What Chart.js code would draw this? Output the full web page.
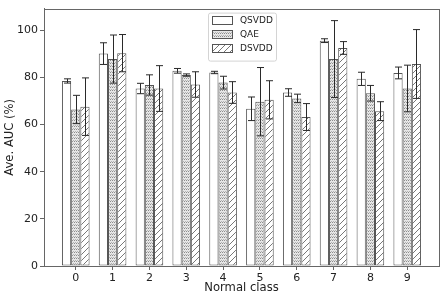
<!DOCTYPE html>
<html>
<head>
<meta charset="utf-8">
<script src="https://cdn.jsdelivr.net/npm/chart.js@4/dist/chart.umd.min.js"></script>
<style>
  html, body { margin: 0; padding: 0; background: #fff; }
  #wrap { width: 444px; height: 300px; }
</style>
</head>
<body>
<div id="wrap"><canvas id="chart"></canvas></div>
<script>
const classes = ['0', '1', '2', '3', '4', '5', '6', '7', '8', '9'];
const yTicks = [0, 20, 40, 60, 80, 100];

const qsvdd = [78.5, 90.1, 75.3, 82.8, 82.1, 66.7, 73.6, 95.6, 79.4, 81.9];
const qsvddErr = [0.9, 4.6, 2.2, 1.0, 0.5, 5.0, 1.6, 0.8, 2.8, 2.5];
const qae = [66.4, 87.8, 76.8, 81.0, 77.8, 69.7, 71.1, 87.8, 73.3, 75.3];
const qaeErr = [6.0, 10.2, 4.3, 0.5, 2.7, 14.5, 1.8, 16.3, 3.3, 9.9];
const dsvdd = [67.6, 90.3, 75.3, 77.0, 73.6, 70.5, 63.2, 92.5, 65.7, 85.7];
const dsvddErr = [12.2, 7.9, 9.7, 5.4, 4.6, 8.1, 5.7, 2.7, 4.0, 14.6];

const FONT = 'DejaVu Sans';
const EDGE = '#555';

// fill patterns, like matplotlib hatches
function dotPattern() {
  const c = document.createElement('canvas');
  c.width = 2; c.height = 3;
  const g = c.getContext('2d');
  g.fillStyle = '#e6e6e6';
  g.fillRect(0, 0, 2, 3);
  g.fillStyle = '#8c8c8c';
  g.fillRect(0, 0, 1, 1);
  g.fillStyle = '#b4b4b4';
  g.fillRect(1, 2, 1, 1);
  return g.createPattern(c, 'repeat');
}

function hatchPattern() {
  const s = 6;
  const c = document.createElement('canvas');
  c.width = s; c.height = s;
  const g = c.getContext('2d');
  g.fillStyle = '#fff';
  g.fillRect(0, 0, s, s);
  g.strokeStyle = '#555';
  g.lineWidth = 0.8;
  g.beginPath();
  g.moveTo(-1, s + 1); g.lineTo(s + 1, -1);
  g.moveTo(-1, 1); g.lineTo(1, -1);
  g.moveTo(s - 1, s + 1); g.lineTo(s + 1, s - 1);
  g.stroke();
  return g.createPattern(c, 'repeat');
}

const toPoints = arr => arr.map((v, i) => ({ x: i, y: v }));

const series = [
  { label: 'QSVDD', data: qsvdd, err: qsvddErr, fill: '#fff' },
  { label: 'QAE', data: qae, err: qaeErr, fill: dotPattern() },
  { label: 'DSVDD', data: dsvdd, err: dsvddErr, fill: hatchPattern() },
];

const errorBars = {
  id: 'errorBars',
  afterDatasetsDraw(chart) {
    const ctx = chart.ctx;
    const y = chart.scales.y;
    ctx.save();
    ctx.strokeStyle = '#2a2a2a';
    ctx.lineWidth = 1;
    chart.data.datasets.forEach((ds, di) => {
      const meta = chart.getDatasetMeta(di);
      meta.data.forEach((bar, i) => {
        const v = ds.data[i].y, e = ds.errors[i];
        const x = Math.round(bar.x) + 0.5;
        const y1 = y.getPixelForValue(v + e);
        const y2 = y.getPixelForValue(v - e);
        ctx.beginPath();
        ctx.moveTo(x, y1); ctx.lineTo(x, y2);
        ctx.moveTo(x - 3.5, y1); ctx.lineTo(x + 3.5, y1);
        ctx.moveTo(x - 3.5, y2); ctx.lineTo(x + 3.5, y2);
        ctx.stroke();
      });
    });
    ctx.restore();
  }
};

const frame = {
  id: 'frame',
  afterDraw(chart) {
    const { ctx, chartArea: a } = chart;
    ctx.save();
    ctx.strokeStyle = '#666';
    ctx.lineWidth = 1;
    ctx.strokeRect(Math.round(a.left) + 0.5, Math.round(a.top) + 0.5,
      Math.round(a.right - a.left), Math.round(a.bottom - a.top));
    ctx.restore();
  }
};

const boxLegend = {
  id: 'boxLegend',
  afterDraw(chart) {
    const { ctx, chartArea: a } = chart;
    const bx = a.left + 164, by = a.top + 4, bw = 68, bh = 48;
    ctx.save();
    ctx.fillStyle = 'rgba(255,255,255,0.85)';
    ctx.strokeStyle = '#d4d4d4';
    ctx.lineWidth = 1;
    ctx.beginPath();
    ctx.roundRect(bx + 0.5, by + 0.5, bw, bh, 2);
    ctx.fill();
    ctx.stroke();
    ctx.font = '9px "' + FONT + '"';
    ctx.textBaseline = 'middle';
    chart.data.datasets.forEach((ds, i) => {
      const cy = by + 7.5 + i * 14;
      ctx.fillStyle = ds.backgroundColor;
      ctx.fillRect(bx + 4, Math.round(cy - 4), 20, 8);
      ctx.strokeStyle = EDGE;
      ctx.strokeRect(bx + 4.5, Math.round(cy - 4) + 0.5, 20, 8);
      ctx.fillStyle = '#222';
      ctx.fillText(ds.label, bx + 32, cy + 0.5);
    });
    ctx.restore();
  }
};

new Chart(document.getElementById('chart'), {
  type: 'bar',
  data: {
    datasets: series.map(s => ({
      label: s.label,
      data: toPoints(s.data),
      errors: s.err,
      backgroundColor: s.fill,
      borderColor: EDGE,
      borderWidth: 1,
      borderSkipped: false,
      categoryPercentage: 0.75,
      barPercentage: 1.0,
    })),
  },
  options: {
    responsive: true,
    maintainAspectRatio: false,
    animation: false,
    layout: { padding: { left: 0, top: 4, right: 5, bottom: 0 } },
    plugins: { legend: { display: false }, tooltip: { enabled: false } },
    scales: {
      x: {
        type: 'linear',
        offset: false,
        min: -0.8625,
        max: 9.8625,
        afterBuildTicks: s => { s.ticks = classes.map((c, i) => ({ value: i })); },
        afterFit: s => { s.height = 34; },
        ticks: {
          callback: v => classes[v],
          color: '#222',
          font: { family: FONT, size: 11 },
          padding: 2,
          maxRotation: 0,
        },
        grid: { display: true, offset: false, drawOnChartArea: false, drawTicks: true, tickLength: 4, color: '#666' },
        border: { display: true, color: '#666' },
        title: {
          display: true,
          text: 'Normal class',
          color: '#222',
          font: { family: FONT, size: 11.6 },
          padding: { top: 0, bottom: 5 },
        },
      },
      y: {
        min: 0,
        max: 109.2,
        afterBuildTicks: s => { s.ticks = yTicks.map(v => ({ value: v })); },
        afterFit: s => { s.width = 44; },
        ticks: {
          color: '#222',
          font: { family: FONT, size: 11 },
          padding: 2,
        },
        grid: { display: true, drawOnChartArea: false, drawTicks: true, tickLength: 4, color: '#666' },
        border: { display: true, color: '#666' },
        title: {
          display: true,
          text: 'Ave. AUC (%)',
          color: '#222',
          font: { family: FONT, size: 11.6 },
          padding: { top: 3, bottom: 0 },
        },
      },
    },
  },
  plugins: [errorBars, frame, boxLegend],
});
</script>
</body>
</html>
